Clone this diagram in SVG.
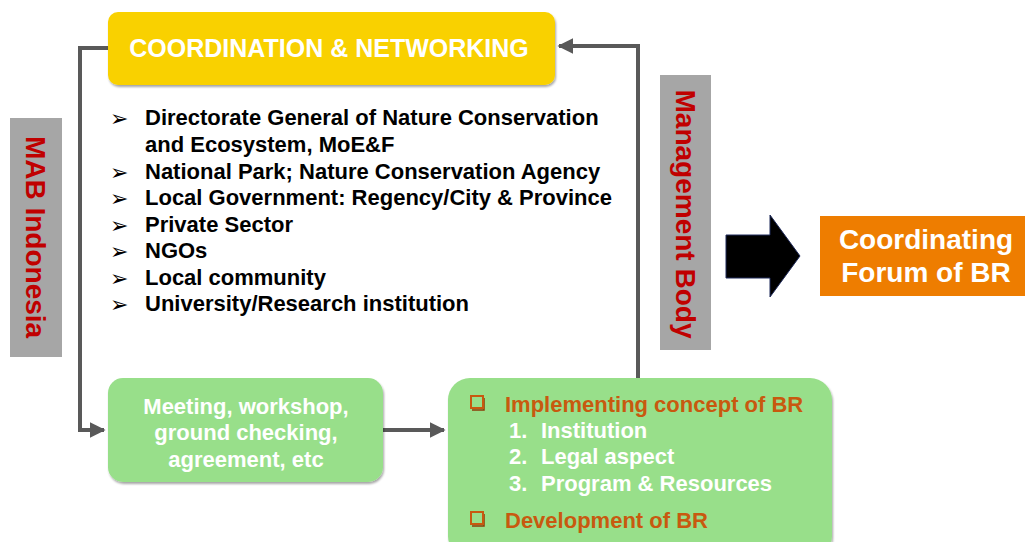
<svg xmlns="http://www.w3.org/2000/svg" width="1025" height="542" viewBox="0 0 1025 542">
  <style>
    .lbl { font-family: "Liberation Sans", Arial, sans-serif; font-weight: bold; }
    .white { fill: #ffffff; }
    .black { fill: #000000; }
    .red { fill: #c00000; }
    .orange { fill: #c8590f; }
    .conn { fill: none; stroke: #595959; stroke-width: 4; }
    .side { fill: #a6a6a6; }
    .green { fill: #98df8a; }
    .bullet { font-family: "DejaVu Sans", sans-serif; font-size: 22px; fill: #000000; }
    .box { fill: none; stroke: #c8590f; stroke-width: 2; }
    .boxshade { fill: none; stroke: #8a3c08; stroke-width: 1.5; }
  </style>
  <defs>
    <marker id="arrow" viewBox="0 0 10 10" refX="9" refY="5" markerWidth="4" markerHeight="4" orient="auto" markerUnits="strokeWidth">
      <path d="M0,0 L10,5 L0,10 Z" fill="#595959"/>
    </marker>
    <filter id="shadow" x="-5%" y="-5%" width="110%" height="115%">
      <feDropShadow dx="1" dy="2" stdDeviation="1" flood-color="#000" flood-opacity="0.35"/>
    </filter>
  </defs>

  <rect width="1025" height="542" fill="#ffffff"/>

  <!-- connectors -->
  <g id="connectors">
    <path class="conn" d="M108,48 H80 V430 H104" marker-end="url(#arrow)"/>
    <path class="conn" d="M383,430 H444" marker-end="url(#arrow)"/>
    <path class="conn" d="M638,378 V46 H559" marker-end="url(#arrow)"/>
  </g>

  <!-- coordination & networking -->
  <g id="coordination">
    <rect x="108" y="12" width="447" height="73" rx="10" fill="#f9d100" filter="url(#shadow)"/>
    <text class="lbl white" x="329" y="57" font-size="25" text-anchor="middle">COORDINATION &amp; NETWORKING</text>
  </g>

  <!-- stakeholders list -->
  <g id="stakeholders" class="lbl black" font-size="22">
    <text class="bullet" x="110" y="126">➢</text>
    <text x="145" y="125">Directorate General of Nature Conservation</text>
    <text x="145" y="152">and Ecosystem, MoE&amp;F</text>
    <text class="bullet" x="110" y="180">➢</text>
    <text x="145" y="179">National Park; Nature Conservation Agency</text>
    <text class="bullet" x="110" y="206">➢</text>
    <text x="145" y="205">Local Government: Regency/City &amp; Province</text>
    <text class="bullet" x="110" y="233">➢</text>
    <text x="145" y="232">Private Sector</text>
    <text class="bullet" x="110" y="259">➢</text>
    <text x="145" y="258">NGOs</text>
    <text class="bullet" x="110" y="286">➢</text>
    <text x="145" y="285">Local community</text>
    <text class="bullet" x="110" y="312">➢</text>
    <text x="145" y="311">University/Research institution</text>
  </g>

  <!-- MAB Indonesia -->
  <g id="mab">
    <rect class="side" x="10" y="118" width="52" height="239"/>
    <text class="lbl red" font-size="28" text-anchor="middle" transform="translate(36,237) rotate(90)" y="10">MAB Indonesia</text>
  </g>

  <!-- Management Body -->
  <g id="management">
    <rect class="side" x="660" y="75" width="51" height="275"/>
    <text class="lbl red" font-size="28" text-anchor="middle" transform="translate(685.5,214) rotate(90)" y="10">Management Body</text>
  </g>

  <!-- block arrow -->
  <g id="block-arrow">
    <path d="M726,235 H770 V215 L800,256 L770,297 V278 H726 Z" fill="#000000" stroke="#1f2a5a" stroke-width="1"/>
  </g>

  <!-- coordinating forum -->
  <g id="forum">
    <rect x="820" y="216" width="205" height="80" fill="#ee7d00"/>
    <text class="lbl white" font-size="28" text-anchor="middle" x="926" y="249">Coordinating</text>
    <text class="lbl white" font-size="28" text-anchor="middle" x="926" y="282">Forum of BR</text>
  </g>

  <!-- meeting box -->
  <g id="meeting">
    <rect class="green" x="108" y="378" width="275" height="104" rx="15" filter="url(#shadow)"/>
    <text class="lbl white" font-size="22" text-anchor="middle" x="246" y="414">Meeting, workshop,</text>
    <text class="lbl white" font-size="22" text-anchor="middle" x="246" y="440">ground checking,</text>
    <text class="lbl white" font-size="22" text-anchor="middle" x="246" y="467">agreement, etc</text>
  </g>

  <!-- implementing box -->
  <g id="implementing">
    <rect class="green" x="448" y="378" width="384" height="180" rx="22" filter="url(#shadow)"/>
    <path class="boxshade" d="M484,398 V410 H472"/>
    <rect class="box" x="471" y="396" width="12" height="12"/>
    <text class="lbl orange" font-size="22" x="505" y="412">Implementing concept of BR</text>
    <text class="lbl white" font-size="22" x="509" y="438">1.</text>
    <text class="lbl white" font-size="22" x="541" y="438">Institution</text>
    <text class="lbl white" font-size="22" x="509" y="464">2.</text>
    <text class="lbl white" font-size="22" x="541" y="464">Legal aspect</text>
    <text class="lbl white" font-size="22" x="509" y="491">3.</text>
    <text class="lbl white" font-size="22" x="541" y="491">Program &amp; Resources</text>
    <path class="boxshade" d="M484,514 V526 H472"/>
    <rect class="box" x="471" y="512" width="12" height="12"/>
    <text class="lbl orange" font-size="22" x="505" y="528">Development of BR</text>
  </g>
</svg>
